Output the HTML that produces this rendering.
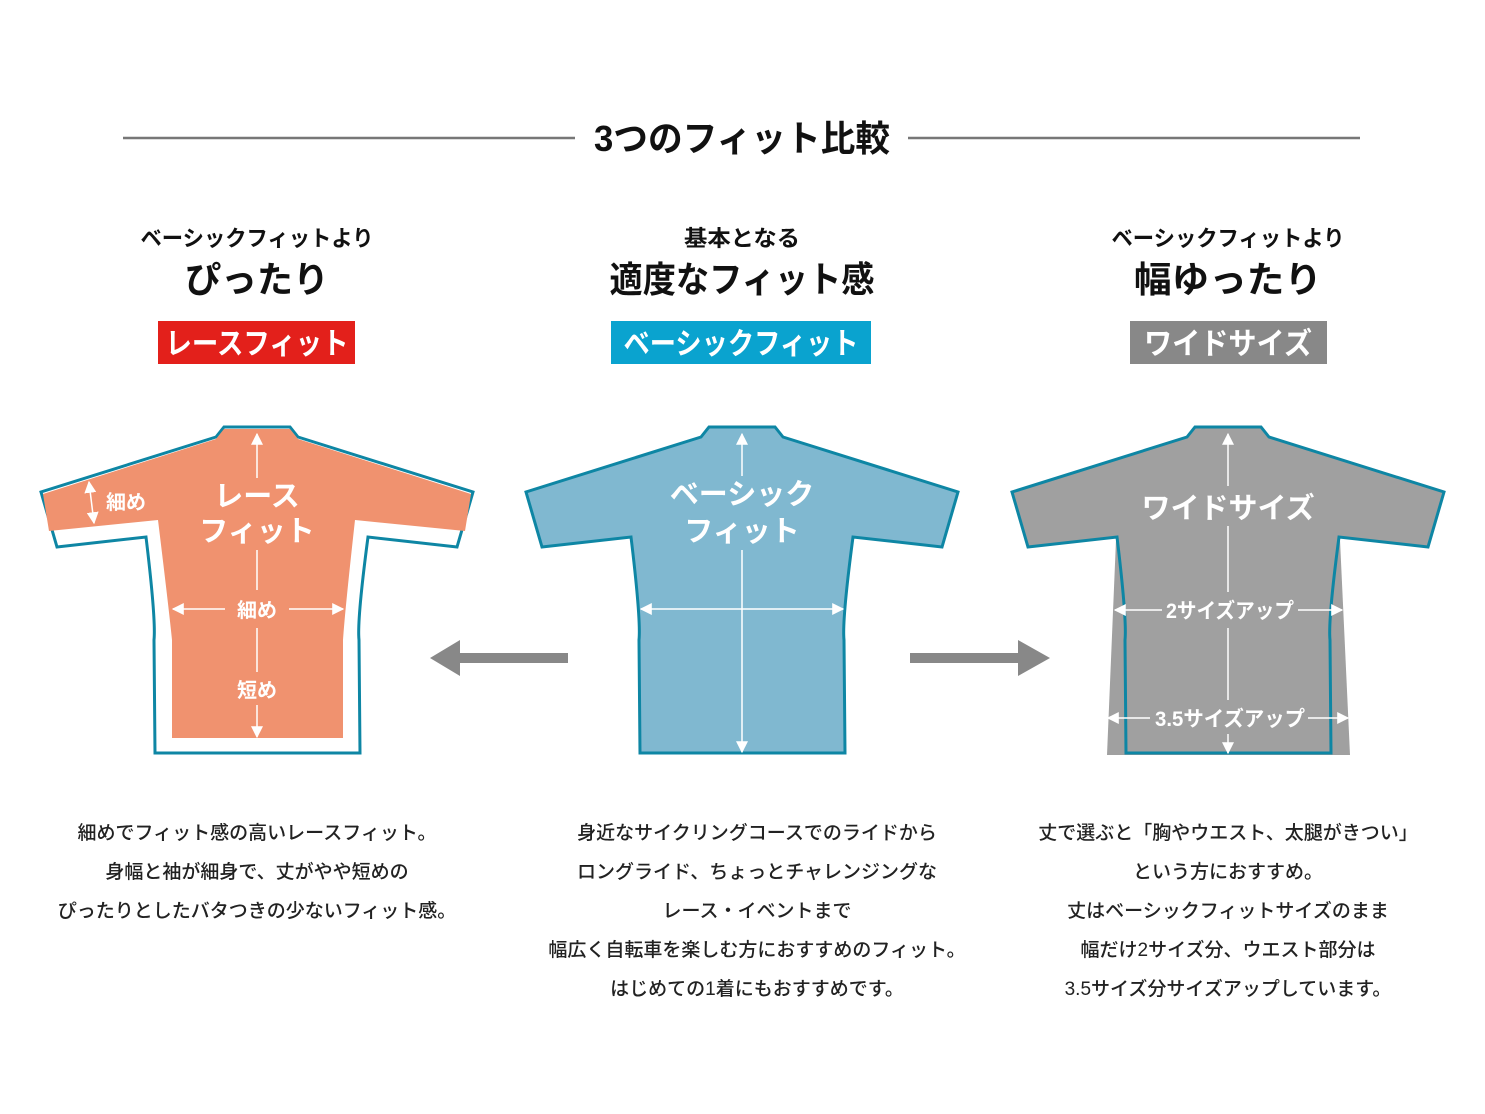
<!DOCTYPE html>
<html><head><meta charset="utf-8"><style>
html,body{margin:0;padding:0;background:#fff}
svg{display:block}
text{font-family:"Liberation Sans","Noto Sans CJK JP",sans-serif}
.b{font-weight:bold}
</style></head><body>
<svg width="1485" height="1114" viewBox="0 0 1485 1114" xmlns="http://www.w3.org/2000/svg">
<defs>
<marker id="ah" viewBox="0 0 10 10" refX="9" refY="5" markerWidth="8" markerHeight="8" orient="auto-start-reverse"><path d="M0,0 L10,5 L0,10 z" fill="#fff"/></marker>
</defs>
<line x1="123" y1="138" x2="575" y2="138" stroke="#777" stroke-width="2.5"/>
<line x1="908" y1="138" x2="1360" y2="138" stroke="#777" stroke-width="2.5"/>
<text x="742" y="151" text-anchor="middle" class="b" font-size="36" textLength="296" lengthAdjust="spacingAndGlyphs" fill="#111">3つのフィット比較</text>

<g fill="#111" class="b" text-anchor="middle">
<text x="257" y="246" font-size="22" textLength="233" lengthAdjust="spacingAndGlyphs">ベーシックフィットより</text>
<text x="257" y="292" font-size="36" textLength="144" lengthAdjust="spacingAndGlyphs">ぴったり</text>
<text x="742" y="246" font-size="22" textLength="116" lengthAdjust="spacingAndGlyphs">基本となる</text>
<text x="742" y="292" font-size="36" textLength="265" lengthAdjust="spacingAndGlyphs">適度なフィット感</text>
<text x="1228" y="246" font-size="22" textLength="233" lengthAdjust="spacingAndGlyphs">ベーシックフィットより</text>
<text x="1228" y="292" font-size="36" textLength="188" lengthAdjust="spacingAndGlyphs">幅ゆったり</text>
</g>
<rect x="158" y="321" width="197" height="43" fill="#e3201b"/>
<rect x="611" y="321" width="260" height="43" fill="#0aa3cf"/>
<rect x="1130" y="321" width="197" height="43" fill="#888"/>
<g fill="#fff" class="b" text-anchor="middle" font-size="30">
<text x="257" y="354" textLength="183" lengthAdjust="spacingAndGlyphs">レースフィット</text>
<text x="741" y="354" textLength="235" lengthAdjust="spacingAndGlyphs">ベーシックフィット</text>
<text x="1228" y="354" textLength="168" lengthAdjust="spacingAndGlyphs">ワイドサイズ</text>
</g>

<g transform="translate(257,0)">
<path d="M-33,427 L33,427 L41,437 L216,492 L200,547 L111,537 Q100,620 102,640 L103,753 L-102,753 L-103,640 Q-101,620 -111,537 L-200,547 L-216,492 L-41,437 Z" fill="#fff" stroke="#0e86a4" stroke-width="3" stroke-linejoin="miter"/>
<path d="M-33,429 L33,429 L41,439 L214,494 L208,531 L98,520 Q88,610 86,640 L86,738 L-85,738 L-85,640 Q-88,610 -99,520 L-208,531 L-214,494 L-41,439 Z" fill="#f0926f"/>
<g stroke="#fff" stroke-width="1.5" fill="none">
<line x1="0" y1="478" x2="0" y2="434" marker-end="url(#ah)"/>
<line x1="0" y1="550" x2="0" y2="590"/>
<line x1="0" y1="628" x2="0" y2="672"/>
<line x1="0" y1="705" x2="0" y2="737" marker-end="url(#ah)"/>
<line x1="-32" y1="609" x2="-84" y2="609" marker-end="url(#ah)"/>
<line x1="32" y1="609" x2="86" y2="609" marker-end="url(#ah)"/>
<line x1="-168" y1="482" x2="-163" y2="523" marker-end="url(#ah)" marker-start="url(#ah)"/>
</g>
<g fill="#fff" class="b" text-anchor="middle">
<text x="0" y="506" font-size="29">レース</text>
<text x="0" y="541" font-size="29">フィット</text>
<text x="0" y="617" font-size="20">細め</text>
<text x="0" y="697" font-size="20">短め</text>
<text x="-131" y="509" font-size="20">細め</text>
</g>
</g>

<path d="M568,653 L460,653 L460,640 L430,658 L460,676 L460,663 L568,663 Z" fill="#888"/>
<path d="M910,653 L1018,653 L1018,640 L1050,658 L1018,676 L1018,663 L910,663 Z" fill="#888"/>

<g transform="translate(742,0)">
<path d="M-33,427 L33,427 L41,437 L216,492 L200,547 L111,537 Q100,620 102,640 L103,753 L-102,753 L-103,640 Q-101,620 -111,537 L-200,547 L-216,492 L-41,437 Z" fill="#80b8d0" stroke="#0e86a4" stroke-width="3"/>
<g stroke="#fff" stroke-width="1.5" fill="none">
<line x1="0" y1="476" x2="0" y2="434" marker-end="url(#ah)"/>
<line x1="0" y1="550" x2="0" y2="752" marker-end="url(#ah)"/>
<line x1="-101" y1="609" x2="101" y2="609" marker-end="url(#ah)" marker-start="url(#ah)"/>
</g>
<g fill="#fff" class="b" text-anchor="middle">
<text x="0" y="504" font-size="29">ベーシック</text>
<text x="0" y="541" font-size="29">フィット</text>
</g>
</g>

<g transform="translate(1228,0)">
<path d="M-112,540 L-121,755 L122,755 L112,540 Z" fill="#a0a0a0"/>
<path d="M-33,427 L33,427 L41,437 L216,492 L200,547 L111,537 Q100,620 102,640 L103,753 L-102,753 L-103,640 Q-101,620 -111,537 L-200,547 L-216,492 L-41,437 Z" fill="#a0a0a0" stroke="#0e86a4" stroke-width="3"/>
<g stroke="#fff" stroke-width="1.5" fill="none">
<line x1="0" y1="486" x2="0" y2="434" marker-end="url(#ah)"/>
<line x1="0" y1="526" x2="0" y2="592"/>
<line x1="0" y1="628" x2="0" y2="700"/>
<line x1="0" y1="734" x2="0" y2="753" marker-end="url(#ah)"/>
<line x1="-66" y1="610" x2="-113" y2="610" marker-end="url(#ah)"/>
<line x1="70" y1="610" x2="114" y2="610" marker-end="url(#ah)"/>
<line x1="-78" y1="718" x2="-120" y2="718" marker-end="url(#ah)"/>
<line x1="80" y1="718" x2="120" y2="718" marker-end="url(#ah)"/>
</g>
<g fill="#fff" class="b" text-anchor="middle">
<text x="0" y="518" font-size="29">ワイドサイズ</text>
<text x="2" y="618" font-size="21" textLength="128" lengthAdjust="spacingAndGlyphs">2サイズアップ</text>
<text x="2" y="726" font-size="21" textLength="150" lengthAdjust="spacingAndGlyphs">3.5サイズアップ</text>
</g>
</g>

<g fill="#222" font-size="19" text-anchor="middle" font-weight="500">
<text x="257" y="839">細めでフィット感の高いレースフィット。</text>
<text x="257" y="878">身幅と袖が細身で、丈がやや短めの</text>
<text x="257" y="917">ぴったりとしたバタつきの少ないフィット感。</text>
<text x="757" y="839">身近なサイクリングコースでのライドから</text>
<text x="757" y="878">ロングライド、ちょっとチャレンジングな</text>
<text x="757" y="917">レース・イベントまで</text>
<text x="757" y="956">幅広く自転車を楽しむ方におすすめのフィット。</text>
<text x="757" y="995">はじめての1着にもおすすめです。</text>
<text x="1228" y="839">丈で選ぶと「胸やウエスト、太腿がきつい」</text>
<text x="1228" y="878">という方におすすめ。</text>
<text x="1228" y="917">丈はベーシックフィットサイズのまま</text>
<text x="1228" y="956">幅だけ2サイズ分、ウエスト部分は</text>
<text x="1228" y="995">3.5サイズ分サイズアップしています。</text>
</g>
</svg>
</body></html>
